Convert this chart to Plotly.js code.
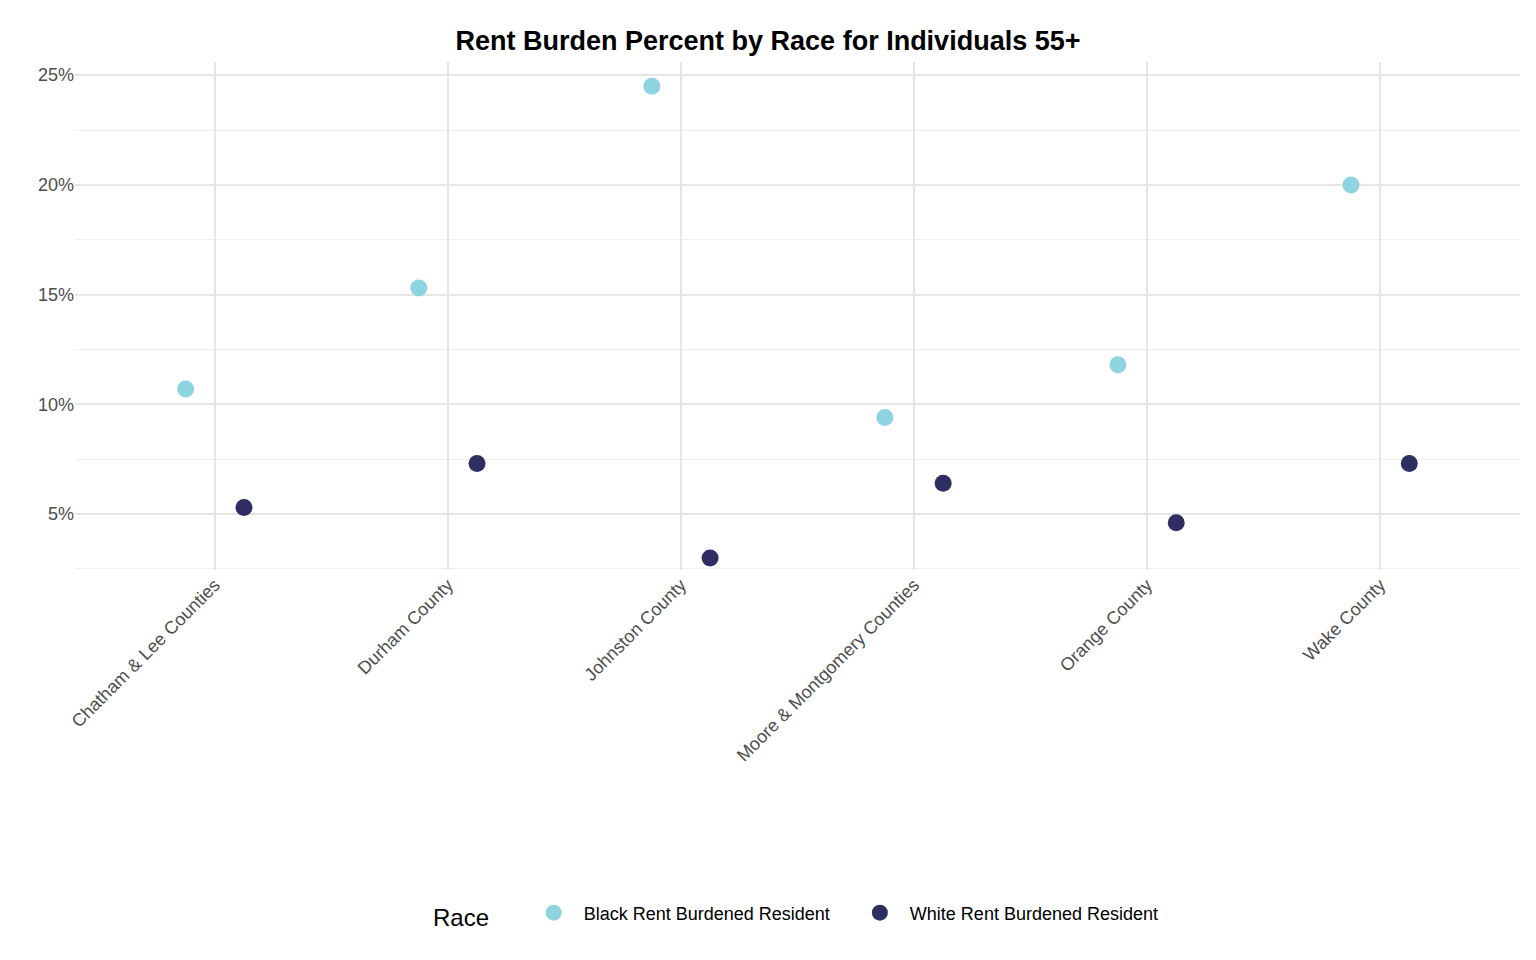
<!DOCTYPE html>
<html><head><meta charset="utf-8">
<script src="https://cdn.plot.ly/plotly-3.0.1.min.js"></script>
<style>body{margin:0;background:#fff}</style></head>
<body><div id="chart" style="width:1536px;height:960px"></div>
<script>
const counties = ["Chatham & Lee Counties","Durham County","Johnston County","Moore & Montgomery Counties","Orange County","Wake County"];
const blackValues = [10.7, 15.3, 24.5, 9.4, 11.8, 20.0];
const whiteValues = [5.3, 7.3, 3.0, 6.4, 4.6, 7.3];
const yTicks = [5, 10, 15, 20, 25];
const yTickLabels = ["5%", "10%", "15%", "20%", "25%"];

const dodge = 0.125;
const idx = counties.map((c, i) => i);
const traces = [
  {x: idx.map(i => i - dodge), y: blackValues, name: "Black Rent Burdened Resident   ", mode: "markers", type: "scatter",
   marker: {color: "#8dd3e0", size: 17}, text: counties, hovertemplate: "%{text}: %{y}%<extra></extra>"},
  {x: idx.map(i => i + dodge), y: whiteValues, name: "White Rent Burdened Resident", mode: "markers", type: "scatter",
   marker: {color: "#2e2e62", size: 17}, text: counties, hovertemplate: "%{text}: %{y}%<extra></extra>"}
];
const layout = {
  width: 1536, height: 960,
  margin: {l: 75, r: 16, t: 62, b: 390},
  paper_bgcolor: "#fff", plot_bgcolor: "#fff",
  font: {family: "Liberation Sans, Arial, sans-serif", color: "#4d4d4d", size: 18},
  title: {text: "<b>Rent Burden Percent by Race for Individuals 55+</b>", x: 0.5, y: 0.968, xanchor: "center",
          font: {size: 27, color: "#000"}},
  xaxis: {range: [-0.6, 5.6], tickvals: idx, ticktext: counties, tickangle: -45, showgrid: true,
          tickfont: {size: 18, color: "#4d4d4d"},
          gridcolor: "#e5e5e5", gridwidth: 2, zeroline: false, showline: false, ticks: "", ticklen: 0},
  yaxis: {range: [2.45, 25.6], tickvals: yTicks, ticktext: yTickLabels, showgrid: true, gridcolor: "#e5e5e5",
          tickfont: {size: 18, color: "#4d4d4d"},
          gridwidth: 2, zeroline: false, showline: false, ticks: "",
          minor: {tickvals: [2.5, 7.5, 12.5, 17.5, 22.5], showgrid: true, gridcolor: "#efefef", gridwidth: 1}},
  legend: {orientation: "h", x: 0.5, xanchor: "center", y: -0.68, yanchor: "middle",
           title: {text: "Race    ", font: {size: 24, color: "#000"}}, font: {size: 18, color: "#000"}, itemwidth: 50},
  showlegend: true
};
Plotly.newPlot("chart", traces, layout, {displayModeBar: false});
</script></body></html>
